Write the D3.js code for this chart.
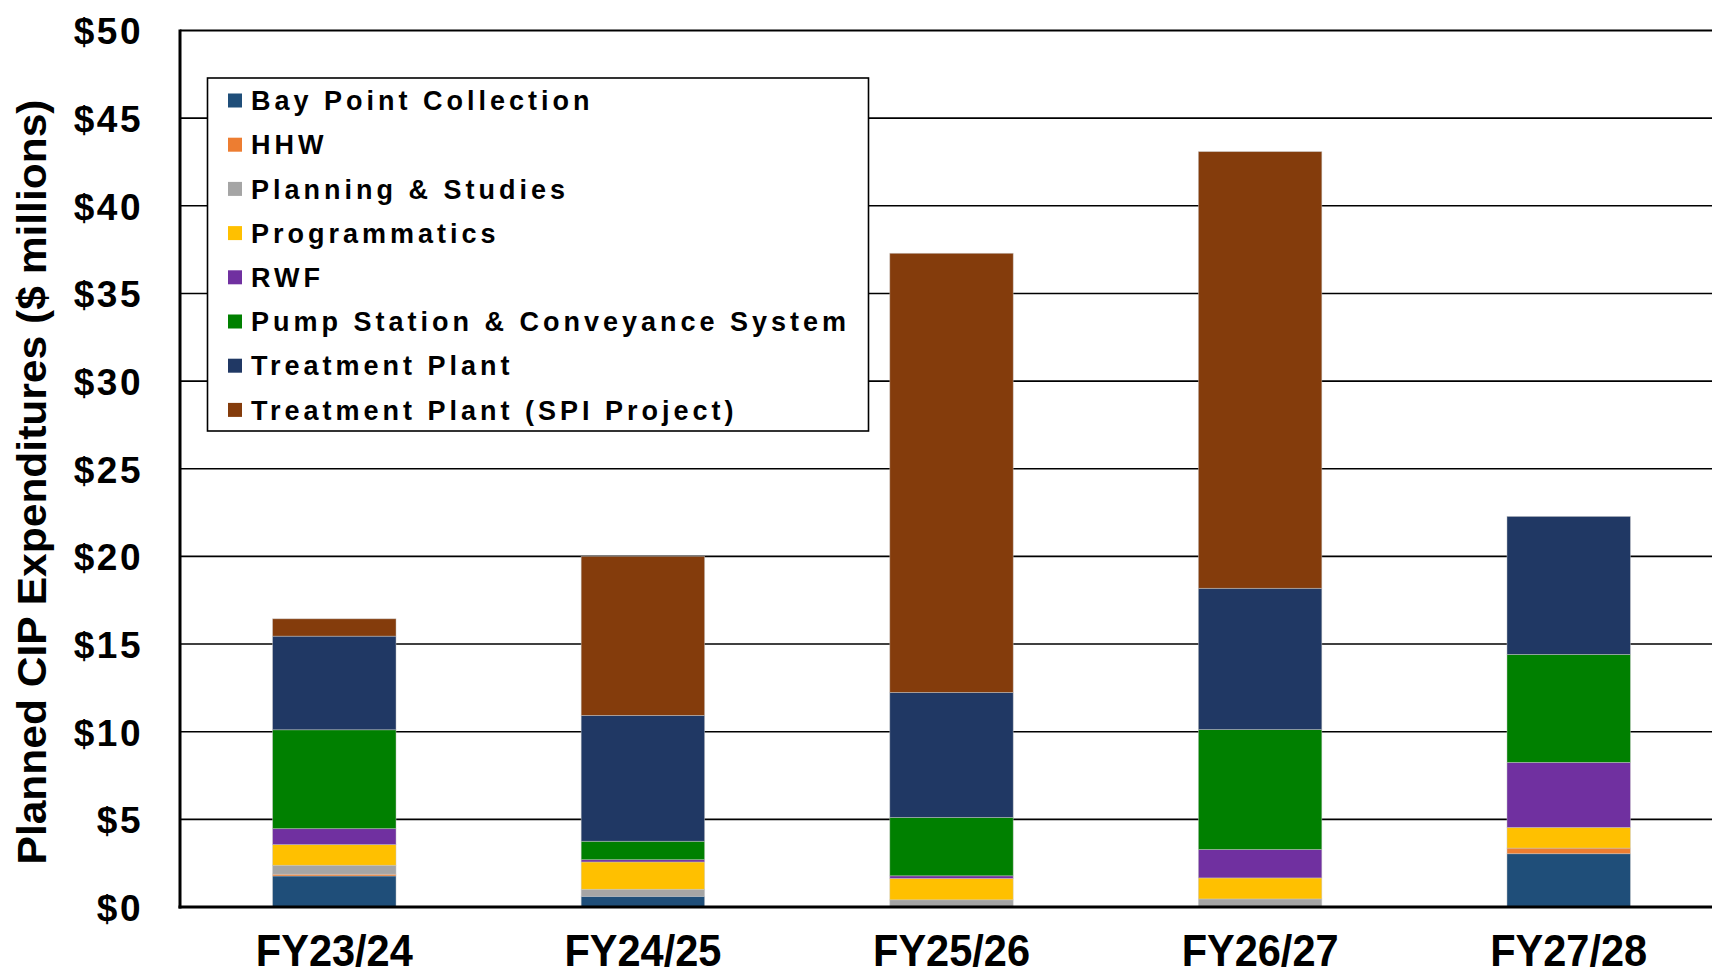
<!DOCTYPE html>
<html><head><meta charset="utf-8">
<script src="https://cdn.jsdelivr.net/npm/d3@7"></script>
<style>html,body{margin:0;padding:0;background:#fff;}svg{display:block;}</style>
</head><body>
<script>
const categories = ["FY23/24","FY24/25","FY25/26","FY26/27","FY27/28"];
const seriesNames = ["Bay Point Collection","HHW","Planning & Studies","Programmatics","RWF","Pump Station & Conveyance System","Treatment Plant","Treatment Plant (SPI Project)"];
const seriesColors = ["#1F4E79","#ED7D31","#A5A5A5","#FFC000","#7030A0","#008000","#203864","#843C0C"];
const bayPoint     = [1.77, 0.61, 0.03, 0.00, 3.04];
const hhw          = [0.10, 0.00, 0.00, 0.00, 0.32];
const planning     = [0.51, 0.40, 0.38, 0.46, 0.00];
const programmatic = [1.18, 1.56, 1.22, 1.20, 1.18];
const rwf          = [0.91, 0.13, 0.15, 1.62, 3.71];
const pumpStation  = [5.64, 1.05, 3.33, 6.84, 6.16];
const treatment    = [5.34, 7.18, 7.13, 8.06, 7.87];
const treatmentSPI = [0.99, 9.07, 25.05, 24.91, 0.00];
const yTicks = [0,5,10,15,20,25,30,35,40,45,50];
const yTickLabels = ["$0","$5","$10","$15","$20","$25","$30","$35","$40","$45","$50"];
const yTitle = "Planned CIP Expenditures ($ millions)";

const seriesValues = [bayPoint,hhw,planning,programmatic,rwf,pumpStation,treatment,treatmentSPI];
const rows = categories.map((c,i)=>{const r={cat:c}; seriesNames.forEach((s,j)=>r[s]=seriesValues[j][i]); return r;});

const W=1712,H=976;
const m={left:180,top:30.5,bottom:907,right:1723};
const svg=d3.select("body").append("svg").attr("width",W).attr("height",H);

const x=d3.scaleBand().domain(categories).range([m.left,m.right]).paddingInner(0.6).paddingOuter(0.3);
const y=d3.scaleLinear().domain([0,50]).range([m.bottom,m.top]);
const color=d3.scaleOrdinal().domain(seriesNames).range(seriesColors);

// gridlines
svg.append("g").selectAll("line").data(yTicks.filter(t=>t>0)).join("line")
  .attr("x1",m.left).attr("x2",W).attr("y1",d=>y(d)).attr("y2",d=>y(d))
  .attr("stroke","#000").attr("stroke-width",d=>d===50?2:1.6);

// bars
const stack=d3.stack().keys(seriesNames)(rows);
svg.append("g").selectAll("g").data(stack).join("g").attr("fill",d=>color(d.key))
  .selectAll("rect").data(d=>d).join("rect")
  .attr("x",d=>x(d.data.cat)).attr("width",x.bandwidth())
  .attr("y",d=>y(d[1])).attr("height",d=>Math.max(0,y(d[0])-y(d[1])))
  .attr("stroke",d=>d[1]-d[0]>0?"rgba(200,200,200,0.55)":"none").attr("stroke-width",0.8);

// axes lines
svg.append("line").attr("x1",m.left).attr("x2",m.left).attr("y1",m.top-1).attr("y2",m.bottom+1.5).attr("stroke","#000").attr("stroke-width",3);
svg.append("line").attr("x1",m.left-1.5).attr("x2",W).attr("y1",m.bottom).attr("y2",m.bottom).attr("stroke","#000").attr("stroke-width",3);

// y tick labels
const yAxis=d3.axisLeft(y).tickValues(yTicks).tickSize(0).tickPadding(0).tickFormat((d,i)=>yTickLabels[i]);
const ya=svg.append("g").attr("transform",`translate(${m.left},0)`).call(yAxis);
ya.select(".domain").remove();
ya.selectAll("text").attr("x",-37).attr("dy","0.36em")
  .style("font-family","'Liberation Sans',Arial,sans-serif").style("font-weight","bold")
  .style("font-size","37px").style("letter-spacing","2.5px").attr("fill","#000");

// x labels
const xAxis=d3.axisBottom(x).tickSize(0).tickPadding(0);
const xa=svg.append("g").attr("transform",`translate(0,${m.bottom})`).call(xAxis);
xa.select(".domain").remove();
xa.selectAll(".tick text").attr("y",0).attr("dy",0)
  .attr("transform","translate(0,59) scale(0.944,1)")
  .style("font-family","'Liberation Sans',Arial,sans-serif").style("font-weight","bold")
  .style("font-size","44px").attr("fill","#000");

// y title
svg.append("text").attr("transform","translate(46,482) rotate(-90)").attr("text-anchor","middle")
  .attr("textLength",765).attr("lengthAdjust","spacingAndGlyphs")
  .style("font-family","'Liberation Sans',Arial,sans-serif").style("font-weight","bold")
  .style("font-size","40px").attr("fill","#000").text(yTitle);

// legend
const lg=svg.append("g");
lg.append("rect").attr("x",207.5).attr("y",78).attr("width",661).attr("height",353)
  .attr("fill","#fff").attr("stroke","#000").attr("stroke-width",1.6);
const items=lg.selectAll("g.item").data(seriesNames).join("g").attr("class","item")
  .attr("transform",(d,i)=>`translate(228,${100.5+i*44.2})`);
items.append("rect").attr("x",0).attr("y",-7).attr("width",14).attr("height",14).attr("fill",d=>color(d));
items.append("text").attr("x",23).attr("dy","0.36em")
  .style("font-family","'Liberation Sans',Arial,sans-serif").style("font-weight","bold")
  .style("font-size","27px").style("letter-spacing","4px").attr("fill","#000").text(d=>d);
</script>
</body></html>
